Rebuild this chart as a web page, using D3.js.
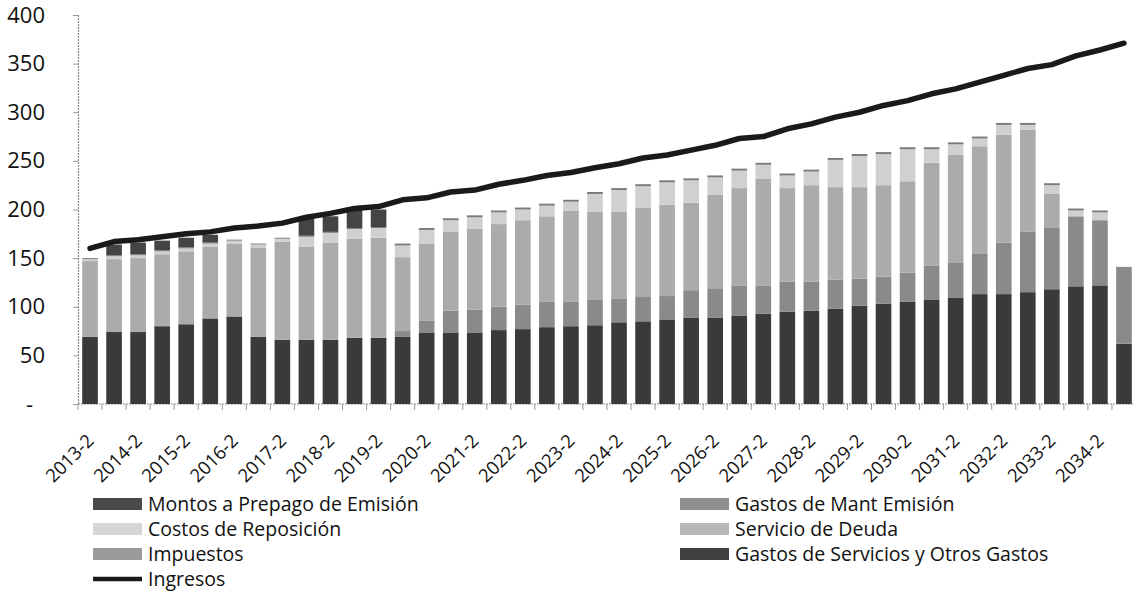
<!DOCTYPE html>
<html><head><meta charset="utf-8">
<script src="https://cdn.jsdelivr.net/npm/d3@7"></script>
<style>
body{margin:0;background:#fff}
svg{display:block}
text{font-family:"Open Sans",sans-serif;fill:#111}
</style>
</head><body>
<svg id="c" width="1133" height="592"></svg>
<script>
const categories = ["2013-2","2014-1","2014-2","2015-1","2015-2","2016-1","2016-2","2017-1","2017-2","2018-1","2018-2","2019-1","2019-2","2020-1","2020-2","2021-1","2021-2","2022-1","2022-2","2023-1","2023-2","2024-1","2024-2","2025-1","2025-2","2026-1","2026-2","2027-1","2027-2","2028-1","2028-2","2029-1","2029-2","2030-1","2030-2","2031-1","2031-2","2032-1","2032-2","2033-1","2033-2","2034-1","2034-2","2035-1"];
const gastosServicios   = [69,74,74,80,82,88,90,69,66,66,66,68,68,69,73,73,73,76,77,79,80,81,84,85,87,89,89,91,93,95,96,98,101,103,105,107,109,113,113,115,118,121,122,62];
const impuestos         = [0,0,0,0,0,0,0,0,0,0,0,0,0,6,13,23,24,24,25,26,25,26,24,25,24,28,30,31,29,31,30,30,28,28,30,35,36,42,53,62,63,72,67,78];
const servicioDeuda     = [78,75,76,74,75,74,75,92,101,96,100,102,103,76,79,81,83,85,87,88,94,91,90,92,94,90,96,100,110,96,99,95,94,94,94,106,111,110,111,105,35,0,0,0];
const costosReposicion  = [2,3,3,3,3,3,3,3,3,10,10,10,10,12,14,12,12,12,11,11,9,18,22,22,23,23,18,18,14,13,14,28,32,32,33,14,11,8,10,5,9,6,8,0];
const gastosMantEmision = [1,1,1,1,1,1,1,1,1,1,1,1,1,2,2,2,2,2,2,2,2,2,2,2,2,2,2,2,2,2,2,2,2,2,2,2,2,2,2,2,2,2,2,1];
const montosPrepago     = [0,11,12,10,10,8,0,0,0,18,16,20,18,0,0,0,0,0,0,0,0,0,0,0,0,0,0,0,0,0,0,0,0,0,0,0,0,0,0,0,0,0,0,0];
const ingresos          = [160,167,169,172,175,177,181,183,186,192,196,201,203,210,212,218,220,226,230,235,238,243,247,253,256,261,266,273,275,283,288,295,300,307,312,319,324,331,338,345,349,358,364,371];
const yTicks = [0,50,100,150,200,250,300,350,400];

const seriesNames = ["Gastos de Servicios y Otros Gastos","Impuestos","Servicio de Deuda","Costos de Reposición","Gastos de Mant Emisión","Montos a Prepago de Emisión"];
const seriesValues = [gastosServicios, impuestos, servicioDeuda, costosReposicion, gastosMantEmision, montosPrepago];
const seriesColors = ["#3a3a3a","#8a8a8a","#ababab","#d0d0d0","#7a7a7a","#444444"];

const svg = d3.select("#c");
const x = d3.scaleBand().domain(categories).range([78, 1136]).paddingInner(0.35).paddingOuter(0.175);
const y = d3.scaleLinear().domain([0, 400]).range([404, 15]);

const rows = categories.map((c, i) => {
  const r = {cat: c};
  seriesNames.forEach((n, j) => r[n] = seriesValues[j][i]);
  return r;
});
const stacked = d3.stack().keys(seriesNames)(rows);

// axes
const yAxis = svg.append("g").attr("transform", "translate(78,0)")
  .call(d3.axisLeft(y).tickValues(yTicks).tickSize(5).tickPadding(28).tickFormat(d => d === 0 ? "-" : d));
yAxis.select(".domain").attr("stroke", "#8a8a8a").attr("stroke-width", 1.2).attr("stroke-dasharray", "2,1");
yAxis.selectAll(".tick line").attr("stroke", "#999");
yAxis.selectAll(".tick text").style("font-size", "22px").attr("fill", "#111")
  .attr("dx", d => d === 0 ? -12 : 0);

const xAxisG = svg.append("g").attr("transform", "translate(0,404)");
xAxisG.append("line").attr("x1", 78).attr("x2", 1136).attr("y1", 0).attr("y2", 0)
  .attr("stroke", "#8a8a8a").attr("stroke-width", 1.2).attr("stroke-dasharray", "2,1");
const bounds = categories.map(c => x(c) - x.step() * 0.175).concat([x(categories[categories.length - 1]) + x.bandwidth() + x.step() * 0.175]);
xAxisG.selectAll("line.tk").data(bounds).join("line").attr("class", "tk")
  .attr("x1", d => d).attr("x2", d => d).attr("y1", 0).attr("y2", 6)
  .attr("stroke", "#999").attr("stroke-width", 1);
xAxisG.selectAll("text").data(categories.filter((c, i) => i % 2 === 0)).join("text")
  .attr("transform", d => `translate(${x(d) + x.bandwidth() / 2 + 5},38) rotate(-45)`)
  .attr("text-anchor", "end").style("font-size", "18.5px").text(d => d);

// bars
svg.append("g").selectAll("g").data(stacked).join("g")
  .attr("fill", (d, i) => seriesColors[i])
  .selectAll("rect").data(d => d).join("rect")
  .attr("x", d => x(d.data.cat))
  .attr("width", x.bandwidth())
  .attr("y", d => y(d[1]))
  .attr("height", d => Math.max(0, y(d[0]) - y(d[1])));

// line
const line = d3.line().x((d, i) => x(categories[i]) + x.bandwidth() / 2).y(d => y(d));
svg.append("path").datum(ingresos).attr("d", line)
  .attr("fill", "none").attr("stroke", "#1a1a1a").attr("stroke-width", 5.5)
  .attr("stroke-linejoin", "round").attr("stroke-linecap", "round");

// legend
const legendItems = [
  {name: "Montos a Prepago de Emisión", color: "#4a4a4a", col: 0, row: 0},
  {name: "Costos de Reposición", color: "#d6d6d6", col: 0, row: 1},
  {name: "Impuestos", color: "#9a9a9a", col: 0, row: 2},
  {name: "Ingresos", color: "#1a1a1a", col: 0, row: 3, line: true},
  {name: "Gastos de Mant Emisión", color: "#8e8e8e", col: 1, row: 0},
  {name: "Servicio de Deuda", color: "#b8b8b8", col: 1, row: 1},
  {name: "Gastos de Servicios y Otros Gastos", color: "#3f3f3f", col: 1, row: 2}
];
const colX = [93, 680];
const lg = svg.append("g").selectAll("g").data(legendItems).join("g")
  .attr("transform", d => `translate(${colX[d.col]},${504 + d.row * 25})`);
lg.each(function(d) {
  const g = d3.select(this);
  if (d.line) {
    g.append("line").attr("x1", 0).attr("x2", 49).attr("y1", 0).attr("y2", 0)
      .attr("stroke", d.color).attr("stroke-width", 4.5);
  } else {
    g.append("rect").attr("x", 0).attr("y", -6).attr("width", 49).attr("height", 12).attr("fill", d.color);
  }
  g.append("text").attr("x", 55).attr("y", 7).style("font-size", "19.5px").text(d.name);
});
</script>
</body></html>
